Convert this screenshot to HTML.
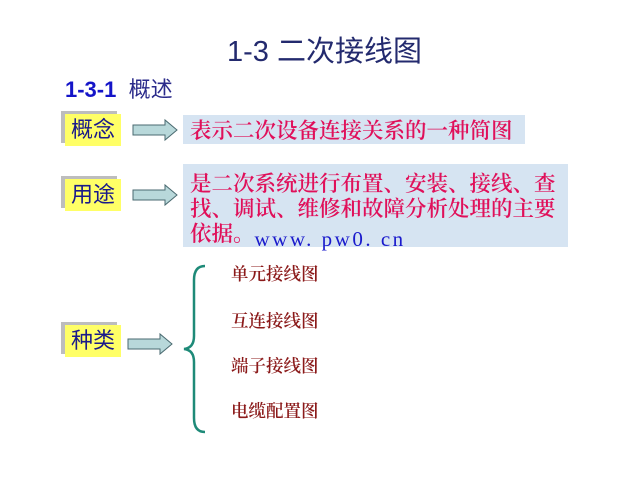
<!DOCTYPE html>
<html><head><meta charset="utf-8"><style>
body{margin:0;width:640px;height:480px;background:#fff;position:relative;overflow:hidden;font-family:"Liberation Sans","Noto Sans CJK SC",sans-serif}
.a{position:absolute;white-space:nowrap}
.lab{position:absolute;background:#ffff66;color:#1a1a8a;font-size:22px;line-height:32px;text-align:center;width:56px;height:32px;box-shadow:-4px -3px 0 #bdbdbd}
.blue{position:absolute;background:#d6e4f2;color:#e0105a;font-size:21.5px;font-weight:600;font-family:"Noto Serif CJK SC",serif;white-space:nowrap}
.it{position:absolute;color:#8b1a1a;font-family:"Noto Serif CJK SC",serif;font-size:17.5px;font-weight:600;left:231px}
</style></head><body>
<div class="a" style="left:227px;top:28px;font-size:29px;color:#232a6e">1-3&nbsp;二次接线图</div>
<div class="a" style="left:65px;top:72px;font-size:22px;color:#2a2a8a"><b style="color:#1414c8">1-3-1</b>&nbsp;&nbsp;概述</div>

<div class="lab" style="left:65px;top:114px">概念</div>
<div class="lab" style="left:65px;top:179px">用途</div>
<div class="lab" style="left:65px;top:325px">种类</div>

<svg class="a" style="left:0;top:0" width="640" height="480">
<g fill="#b8d8da" stroke="#4a6a70" stroke-width="1">
<polygon points="133,125 165,125 165,120 177,130 165,140 165,135 133,135"/>
<polygon points="133,190 165,190 165,185 177,195 165,205 165,200 133,200"/>
<polygon points="128,339 160,339 160,334 172,344 160,354 160,349 128,349"/>
</g>
<path d="M205,266 Q194,266 194,280 L194,336 Q194,348 184,349 Q194,350 194,362 L194,418 Q194,432 205,432" fill="none" stroke="#1e8a78" stroke-width="2.5"/>
</svg>

<div class="blue" style="left:183px;top:115px;width:342px;height:29px;line-height:29px;padding-left:7px;box-sizing:border-box">表示二次设备连接关系的一种简图</div>
<div class="blue" style="left:183px;top:164px;width:385px;height:83px;line-height:25px;padding:6px 0 0 7px;box-sizing:border-box">是二次系统进行布置、安装、接线、查<br>找、调试、维修和故障分析处理的主要<br>依据。<span style="font-family:'Liberation Serif',serif;font-weight:normal;color:#1a1acc;font-size:21px;letter-spacing:2.5px;position:relative;top:5px">www. pw0. cn</span></div>

<div class="it" style="top:261px">单元接线图</div>
<div class="it" style="top:308px">互连接线图</div>
<div class="it" style="top:353px">端子接线图</div>
<div class="it" style="top:398px">电缆配置图</div>
</body></html>
